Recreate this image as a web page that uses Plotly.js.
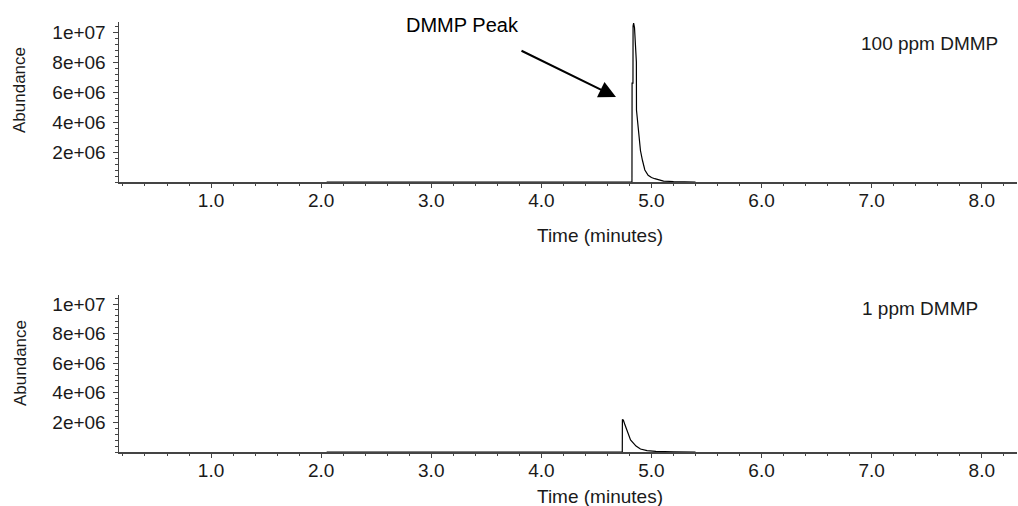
<!DOCTYPE html>
<html>
<head>
<meta charset="utf-8">
<script src="https://cdn.plot.ly/plotly-3.0.1.min.js"></script>
<style>html,body{margin:0;padding:0;background:#fff;}</style>
</head>
<body>
<div id="chart" style="width:1018px;height:506px;"></div>
<script>
// Data
const time100 = [2.05, 4.823, 4.824, 4.832, 4.833, 4.838, 4.846, 4.852, 4.855, 4.863, 4.864, 4.883, 4.885, 4.90, 4.918, 4.94, 4.97, 5.0, 5.03, 5.07, 5.11, 5.2, 5.3, 5.4];
const abund100 = [0, 0, 6.6e6, 6.6e6, 1.04e7, 1.06e7, 1.03e7, 9.6e6, 8.8e6, 8.0e6, 4.8e6, 3.4e6, 3.0e6, 2.1e6, 1.45e6, 8.0e5, 4.5e5, 3.0e5, 2.2e5, 1.2e5, 6e4, 3e4, 1e4, 0];

const time1 = [2.05, 4.735, 4.736, 4.745, 4.76, 4.78, 4.81, 4.86, 4.90, 4.96, 5.04, 5.2, 5.4];
const abund1 = [0, 0, 2.2e6, 2.15e6, 1.82e6, 1.37e6, 8.1e5, 4.0e5, 2.0e5, 9e4, 4e4, 1e4, 0];

const xTickVals = [1, 2, 3, 4, 5, 6, 7, 8];
const xTickText = ['1.0', '2.0', '3.0', '4.0', '5.0', '6.0', '7.0', '8.0'];
const yTickVals = [2e6, 4e6, 6e6, 8e6, 1e7];
const yTickText = ['2e+06', '4e+06', '6e+06', '8e+06', '1e+07'];

const panelLabels = ['100 ppm DMMP', '1 ppm DMMP'];
const peakLabel = 'DMMP Peak';
const xTitle = 'Time (minutes)';
const yTitle = 'Abundance';

const W = 1018, H = 506;
const px = v => v / W;
const py = v => 1 - v / H;

const FONT = 'Liberation Sans, Arial, sans-serif';
const TXT = '#1a1a1a';
const AX = '#444';

function xAxis(anchor) {
  return {
    anchor: anchor,
    domain: [px(119), px(1017)],
    range: [0.164, 8.32],
    tickmode: 'array',
    tickvals: xTickVals,
    ticktext: xTickText,
    ticks: 'outside',
    ticklen: 4,
    tickwidth: 1,
    tickcolor: AX,
    ticklabelstandoff: -3,
    showline: true,
    linecolor: AX,
    linewidth: 1.5,
    showgrid: false,
    zeroline: false,
    tickfont: {family: FONT, size: 19, color: TXT},
    minor: {tickmode: 'linear', tick0: 0, dtick: 0.2, ticks: 'outside', ticklen: 2.5, tickcolor: AX, showgrid: false},
    fixedrange: true
  };
}
function yAxis(anchor, d0, d1, top) {
  return {
    anchor: anchor,
    domain: [py(d0), py(d1)],
    range: [0, top],
    tickmode: 'array',
    tickvals: yTickVals,
    ticktext: yTickText,
    ticks: 'outside',
    ticklen: 5,
    tickwidth: 1,
    tickcolor: AX,
    ticklabelstandoff: 3,
    showline: true,
    linecolor: AX,
    linewidth: 1.5,
    showgrid: false,
    zeroline: false,
    tickfont: {family: FONT, size: 19, color: TXT},
    minor: {tickmode: 'linear', tick0: 0, dtick: 4e5, ticks: 'outside', ticklen: 2.5, tickcolor: AX, showgrid: false},
    fixedrange: true
  };
}

const traces = [
  {x: time100, y: abund100, xaxis: 'x', yaxis: 'y', type: 'scatter', mode: 'lines',
   line: {color: '#000', width: 1.2}, cliponaxis: true, hoverinfo: 'skip'},
  {x: time1, y: abund1, xaxis: 'x2', yaxis: 'y2', type: 'scatter', mode: 'lines',
   line: {color: '#000', width: 1.2}, cliponaxis: true, hoverinfo: 'skip'}
];

const layout = {
  width: W, height: H,
  margin: {l: 0, r: 0, t: 0, b: 0},
  paper_bgcolor: '#fff', plot_bgcolor: '#fff',
  showlegend: false,
  xaxis: xAxis('y'),
  yaxis: yAxis('x', 182, 22, 1.067e7),
  xaxis2: xAxis('y2'),
  yaxis2: yAxis('x2', 452, 295, 1.061e7),
  annotations: [
    {xref: 'paper', yref: 'paper', x: px(600), y: py(235), text: xTitle, showarrow: false,
     font: {family: FONT, size: 19, color: TXT}, xanchor: 'center', yanchor: 'middle'},
    {xref: 'paper', yref: 'paper', x: px(600), y: py(496), text: xTitle, showarrow: false,
     font: {family: FONT, size: 19, color: TXT}, xanchor: 'center', yanchor: 'middle'},
    {xref: 'paper', yref: 'paper', x: px(20), y: py(90), text: yTitle, showarrow: false, textangle: -90,
     font: {family: FONT, size: 17, color: TXT}, xanchor: 'center', yanchor: 'middle'},
    {xref: 'paper', yref: 'paper', x: px(20), y: py(363), text: yTitle, showarrow: false, textangle: -90,
     font: {family: FONT, size: 17, color: TXT}, xanchor: 'center', yanchor: 'middle'},
    {xref: 'paper', yref: 'paper', x: px(1000), y: py(44), text: panelLabels[0], showarrow: false,
     font: {family: FONT, size: 19, color: TXT}, xanchor: 'right', yanchor: 'middle'},
    {xref: 'paper', yref: 'paper', x: px(980), y: py(308), text: panelLabels[1], showarrow: false,
     font: {family: FONT, size: 19, color: TXT}, xanchor: 'right', yanchor: 'middle'},
    {xref: 'paper', yref: 'paper', x: px(462), y: py(25), text: peakLabel, showarrow: false,
     font: {family: FONT, size: 20, color: '#000'}, xanchor: 'center', yanchor: 'middle'},
    {xref: 'paper', yref: 'paper', x: px(616), y: py(97), text: '', showarrow: true,
     ax: -96, ay: -47, arrowhead: 2, arrowsize: 1.7, arrowwidth: 2, arrowcolor: '#000'}
  ]
};

Plotly.newPlot('chart', traces, layout, {staticPlot: true, displayModeBar: false});
</script>
</body>
</html>
